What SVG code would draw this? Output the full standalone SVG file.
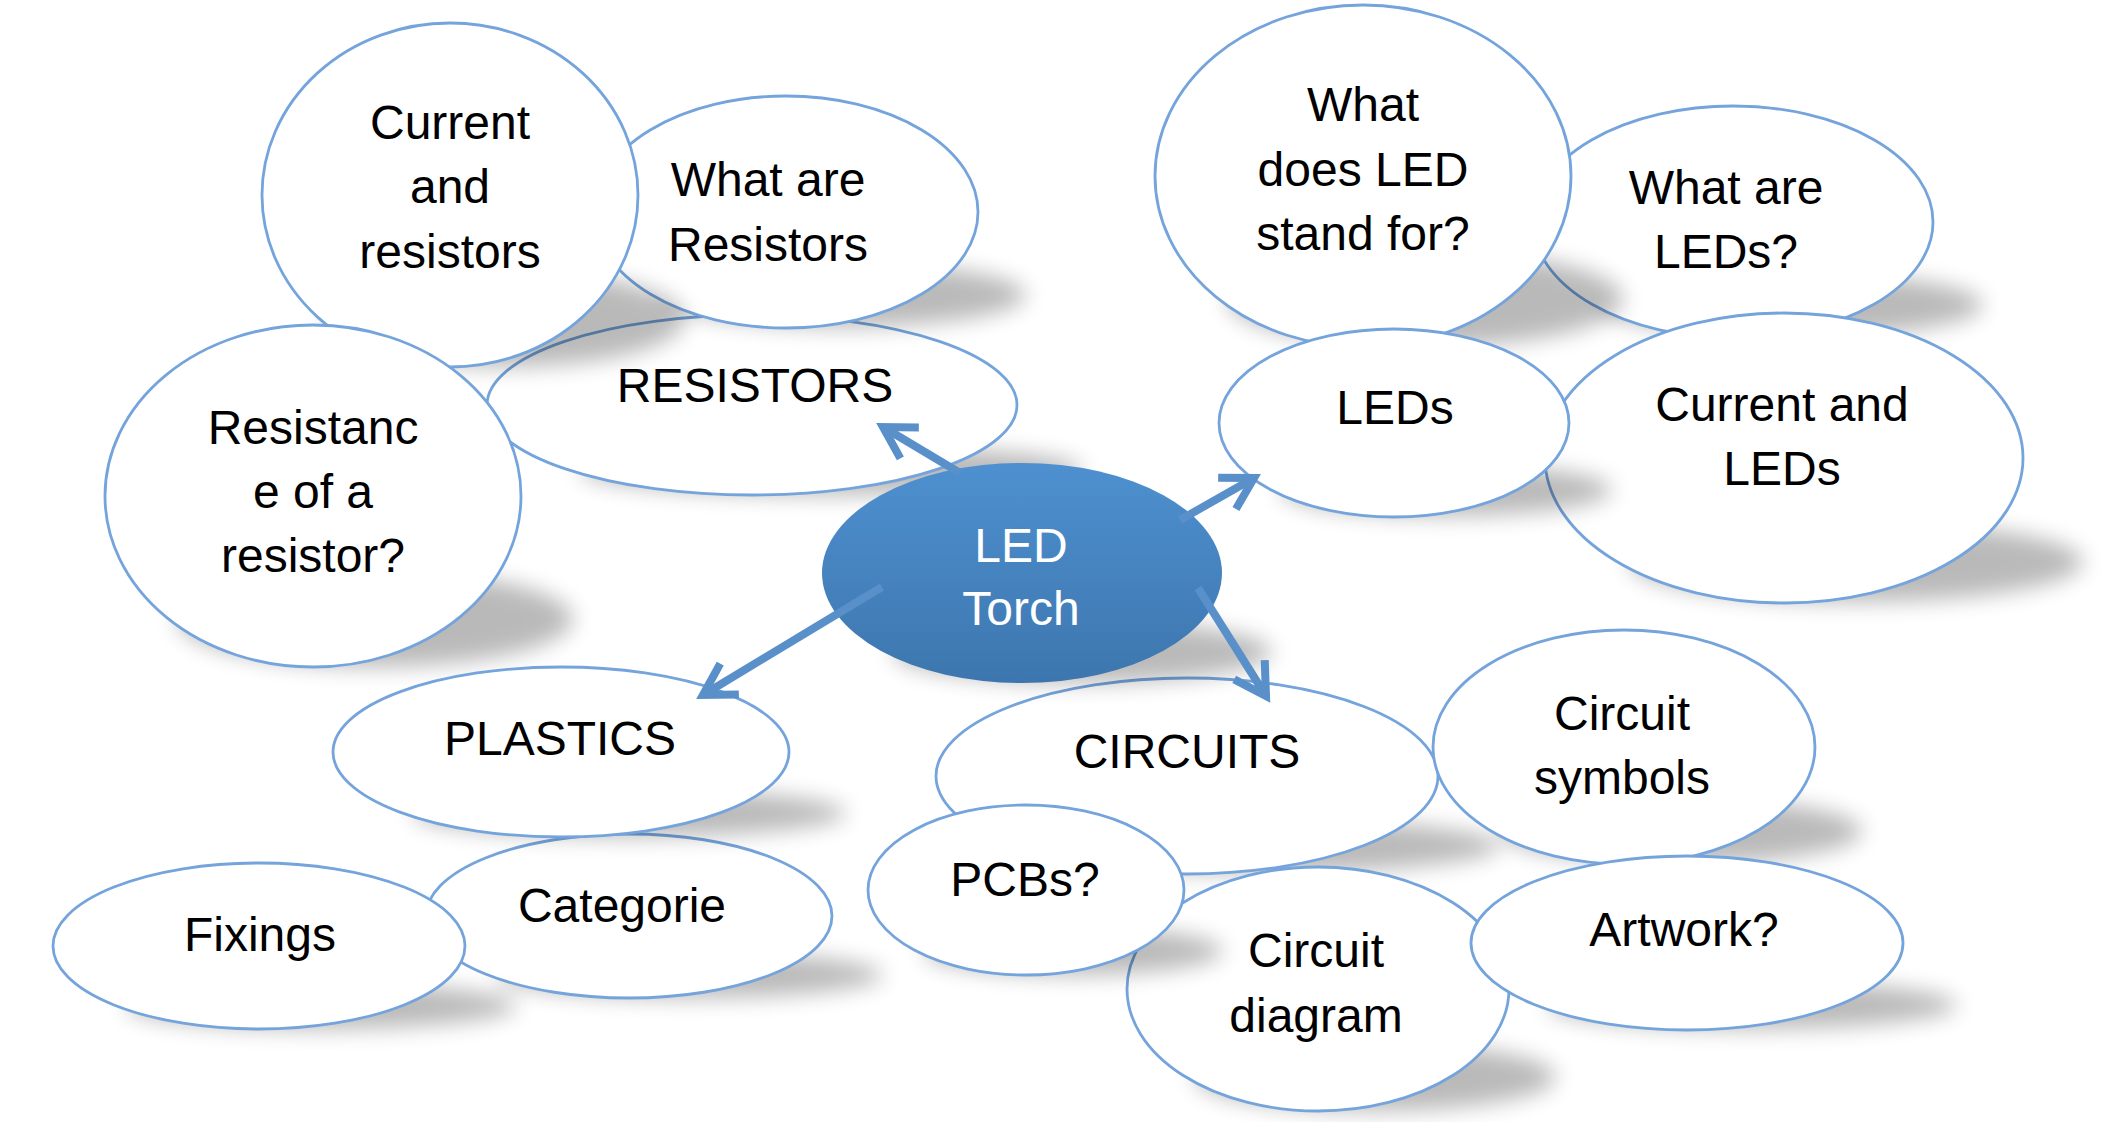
<svg xmlns="http://www.w3.org/2000/svg" width="2106" height="1122" viewBox="0 0 2106 1122">
<defs>
<filter id="blur" x="-30%" y="-150%" width="160%" height="400%"><feGaussianBlur stdDeviation="11"/></filter>
<linearGradient id="torchFill" x1="0" y1="0" x2="0" y2="1"><stop offset="0" stop-color="#4E90D0"/><stop offset="1" stop-color="#3D76AE"/></linearGradient>
<marker id="chev" markerUnits="userSpaceOnUse" orient="auto" viewBox="-45 -30 60 60" refX="0" refY="0" markerWidth="60" markerHeight="60" overflow="visible">
<path d="M-31,-18 L0,0 L-31,18" fill="none" stroke="#5990C9" stroke-width="8" stroke-linejoin="miter"/>
</marker>
</defs>
<style>
.sh{fill:#000;opacity:0.27;filter:url(#blur)}
.b{fill:#fff;stroke:#74A4DB;stroke-width:2.8}
.t{font-family:"Liberation Sans",Arial,sans-serif;font-size:48px;fill:#000;text-anchor:middle}
.w{fill:#fff}
.c{fill:none;stroke:#5990C9;stroke-width:8;marker-end:url(#chev)}
</style>
<rect width="2106" height="1122" fill="#fff"/>
<g id="n-resistors"><ellipse class="sh" cx="831" cy="470" rx="252" ry="25"/><ellipse class="b" cx="752" cy="405" rx="265" ry="90"/><text class="t" x="755" y="402">RESISTORS</text></g>
<g id="n-what-resistors"><ellipse class="sh" cx="844" cy="295" rx="182" ry="32"/><ellipse class="b" cx="786" cy="212" rx="192" ry="116"/><text class="t" x="768" y="196">What are</text><text class="t" x="768" y="261">Resistors</text></g>
<g id="n-current-resistors"><ellipse class="sh" cx="506" cy="319" rx="179" ry="48"/><ellipse class="b" cx="450" cy="195" rx="188" ry="172"/><text class="t" x="450" y="139">Current</text><text class="t" x="450" y="203">and</text><text class="t" x="450" y="268">resistors</text></g>
<g id="n-resistance"><ellipse class="sh" cx="375" cy="619" rx="198" ry="48"/><ellipse class="b" cx="313" cy="496" rx="208" ry="171"/><text class="t" x="313" y="444">Resistanc</text><text class="t" x="313" y="508">e of a</text><text class="t" x="313" y="572">resistor?</text></g>
<g id="n-what-leds"><ellipse class="sh" cx="1793" cy="305" rx="190" ry="32"/><ellipse class="b" cx="1733" cy="222" rx="200" ry="116"/><text class="t" x="1726" y="204">What are</text><text class="t" x="1726" y="268">LEDs?</text></g>
<g id="n-what-does"><ellipse class="sh" cx="1425" cy="299" rx="198" ry="48"/><ellipse class="b" cx="1363" cy="176" rx="208" ry="171"/><text class="t" x="1363" y="121">What</text><text class="t" x="1363" y="186">does LED</text><text class="t" x="1363" y="250">stand for?</text></g>
<g id="n-current-leds"><ellipse class="sh" cx="1856" cy="562" rx="227" ry="40"/><ellipse class="b" cx="1784" cy="458" rx="239" ry="145"/><text class="t" x="1782" y="421">Current and</text><text class="t" x="1782" y="485">LEDs</text></g>
<g id="n-leds"><ellipse class="sh" cx="1446" cy="490" rx="166" ry="26"/><ellipse class="b" cx="1394" cy="423" rx="175" ry="94"/><text class="t" x="1395" y="424">LEDs</text></g>
<g id="n-categorie"><ellipse class="sh" cx="690" cy="975" rx="193" ry="23"/><ellipse class="b" cx="629" cy="916" rx="203" ry="82"/><text class="t" x="622" y="922">Categorie</text></g>
<g id="n-plastics"><ellipse class="sh" cx="629" cy="813" rx="217" ry="24"/><ellipse class="b" cx="561" cy="752" rx="228" ry="85"/><text class="t" x="560" y="755">PLASTICS</text></g>
<g id="n-fixings"><ellipse class="sh" cx="321" cy="1006" rx="196" ry="23"/><ellipse class="b" cx="259" cy="946" rx="206" ry="83"/><text class="t" x="260" y="951">Fixings</text></g>
<g id="n-circuits"><ellipse class="sh" cx="1262" cy="846" rx="238" ry="27"/><ellipse class="b" cx="1187" cy="776" rx="251" ry="98"/><text class="t" x="1187" y="768">CIRCUITS</text></g>
<g id="n-symbols"><ellipse class="sh" cx="1681" cy="831" rx="181" ry="33"/><ellipse class="b" cx="1624" cy="747" rx="191" ry="117"/><text class="t" x="1622" y="730">Circuit</text><text class="t" x="1622" y="794">symbols</text></g>
<g id="n-diagram"><ellipse class="sh" cx="1375" cy="1077" rx="181" ry="34"/><ellipse class="b" cx="1318" cy="989" rx="191" ry="122"/><text class="t" x="1316" y="967">Circuit</text><text class="t" x="1316" y="1032">diagram</text></g>
<g id="n-pcbs"><ellipse class="sh" cx="1073" cy="951" rx="150" ry="24"/><ellipse class="b" cx="1026" cy="890" rx="158" ry="85"/><text class="t" x="1025" y="896">PCBs?</text></g>
<g id="n-artwork"><ellipse class="sh" cx="1752" cy="1005" rx="205" ry="24"/><ellipse class="b" cx="1687" cy="943" rx="216" ry="87"/><text class="t" x="1684" y="946">Artwork?</text></g>
<g id="n-torch"><ellipse class="sh" cx="1082" cy="652" rx="190" ry="31"/><ellipse cx="1022" cy="573" rx="200" ry="110" fill="url(#torchFill)"/><text class="t w" x="1021" y="562">LED</text><text class="t w" x="1021" y="625">Torch</text></g>
<g id="connectors">
<path class="c" d="M960,473 L883,427"/>
<path class="c" d="M1180,520 L1254,478"/>
<path class="c" d="M882,587 L703,695"/>
<path class="c" d="M1198,588 L1266,696"/>
</g>
</svg>
